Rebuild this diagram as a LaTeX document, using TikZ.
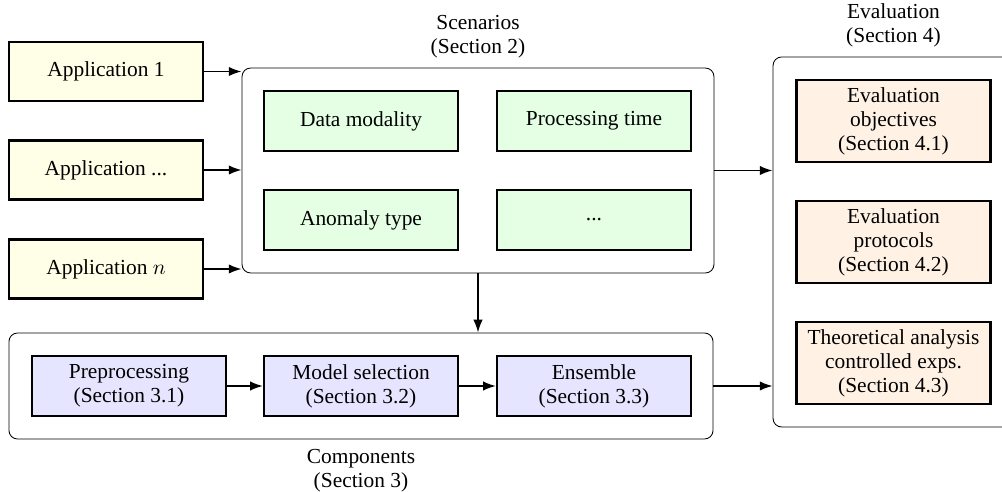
\documentclass[tikz,border=0pt]{standalone}
\usepackage{fontspec}
\setmainfont{Liberation Serif}
\usetikzlibrary{arrows.meta,positioning}

\tikzset{
  box/.style={draw, line width=1pt, minimum width=90.6pt, minimum height=28pt, align=center, inner sep=2pt},
  appbox/.style={box, fill=yellow!10, minimum height=27.6pt},
  scenbox/.style={box, fill=green!10},
  compbox/.style={box, fill=blue!10},
  evalbox/.style={box, fill=orange!10, minimum height=38.3pt},
  group/.style={draw, rounded corners=4pt},
  flow/.style={-{Latex[length=6pt,width=4.4pt]}, thick},
}

\begin{document}
\begin{tikzpicture}
            [x=0.467pt, y=-0.467pt, every node/.style={font=\fontsize{10}{11.2}\selectfont}]
            % Fix the frame
            \useasboundingbox (0,0) rectangle (1002,492);
            \clip (0,0) rectangle (1002,492);

            % Applications
            \node[appbox] (app1) at (106, 71.5) {Application 1};
            \node[appbox] (app2) at (106, 170) {Application ...};
            \node[appbox] (appn) at (106, 269) {Application $n$};

            % Scenarios
            \node[group, minimum width=220.4pt, minimum height=95.7pt] (scen) at (478, 170.5) {};
            \node[above=1pt of scen, align=center] (scenlabel) {Scenarios\\(Section 2)};
            \node[scenbox] (modality) at (361, 121) {Data modality};
            \node[scenbox] (time) at (594, 121) {Processing time};
            \node[scenbox] (anomaly) at (361, 220) {Anomaly type};
            \node[scenbox] (more) at (594, 220) {...};

            % Components
            \node[group, minimum width=328.8pt, minimum height=49.5pt] (comp) at (361, 386) {};
            \node[below=1.3pt of comp, align=center] (complabel) {Components\\(Section 3)};
            \node[compbox] (pre) at (129, 386) {Preprocessing\\(Section 3.1)};
            \node[compbox] (msel) at (361, 386) {Model selection\\(Section 3.2)};
            \node[compbox] (ens) at (594, 386) {Ensemble\\(Section 3.3)};

            % Evaluation
            \node[group, minimum width=112.5pt, minimum height=172.8pt] (eval) at (893.5, 242) {};
            \node[above=1pt of eval, align=center] (evallabel) {Evaluation\\(Section 4)};
            \node[evalbox] (objectives) at (893.5, 121) {Evaluation\\objectives\\(Section 4.1)};
            \node[evalbox] (protocols) at (893.5, 242) {Evaluation\\protocols\\(Section 4.2)};
            \node[evalbox] (theory) at (893.5, 363) {Theoretical analysis\\controlled exps.\\(Section 4.3)};

            % Draw arrows
            \draw[flow] (app1) -- (app1 -| scen.west);
            \draw[flow] (app2) -- (app2 -| scen.west);
            \draw[flow] (appn) -- (appn -| scen.west);
            \draw[flow] (scen) -- (scen -| eval.west);
            \draw[flow] (scen) -- (scen |- comp.north);
            \draw[flow] (pre) -- (msel);
            \draw[flow] (msel) -- (ens);
            \draw[flow] (comp) -- (comp -| eval.west);
        \end{tikzpicture}
\end{document}
